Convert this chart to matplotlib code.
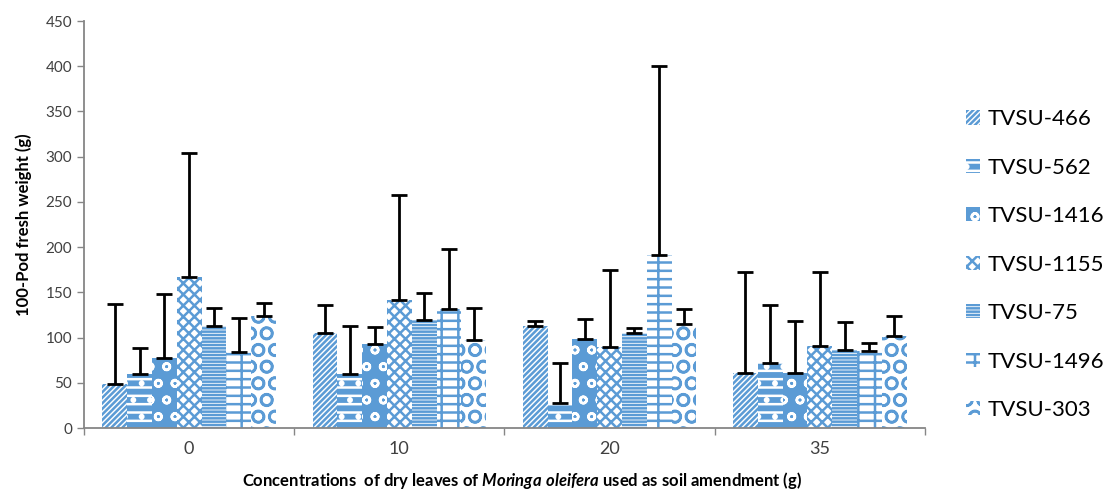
import matplotlib
matplotlib.use("Agg")
import matplotlib.pyplot as plt
import numpy as np
from matplotlib.patches import Patch

plt.rcParams['font.family'] = ['Lato', 'DejaVu Sans']
plt.rcParams['mathtext.fontset'] = 'custom'
plt.rcParams['mathtext.it'] = 'Lato:italic:bold'
plt.rcParams['mathtext.rm'] = 'Lato:bold'
plt.rcParams['hatch.linewidth'] = 1.8

groups = ['0', '10', '20', '35']
varieties = ['TVSU-466', 'TVSU-562', 'TVSU-1416', 'TVSU-1155', 'TVSU-75', 'TVSU-1496', 'TVSU-303']
means = {
    'TVSU-466': [49, 105, 113, 61],
    'TVSU-562': [60, 60, 28, 72],
    'TVSU-1416': [77, 93, 98, 61],
    'TVSU-1155': [167, 142, 90, 91],
    'TVSU-75': [113, 119, 105, 86],
    'TVSU-1496': [84, 132, 191, 85],
    'TVSU-303': [124, 97, 115, 102],
}
errors = {
    'TVSU-466': [88, 31, 5, 111],
    'TVSU-562': [28, 53, 44, 64],
    'TVSU-1416': [71, 19, 23, 57],
    'TVSU-1155': [137, 116, 85, 81],
    'TVSU-75': [20, 30, 6, 31],
    'TVSU-1496': [38, 66, 209, 9],
    'TVSU-303': [14, 36, 17, 22],
}

blue = '#5B9BD5'
# (face colour, hatch colour, hatch pattern)
styles = [
    ('white', blue, '//////'),
    (blue, 'white', '--.'),
    (blue, 'white', 'o'),
    ('white', blue, 'xxx'),
    ('white', blue, '-----'),
    ('white', blue, '--|'),
    ('white', blue, 'O'),
]

fig = plt.figure(figsize=(11.1, 4.97), dpi=100)
ax = fig.add_axes([0.0757, 0.1388, 0.7576, 0.8189])

x = np.arange(len(groups))
w = 0.118
for j, v in enumerate(varieties):
    fc, hc, h = styles[j]
    pos = x + (j - 3) * w
    ax.bar(pos, means[v], width=w, facecolor=fc, edgecolor=hc, linewidth=0,
           hatch=h, label=v, zorder=2)
    ax.errorbar(pos, means[v], yerr=[np.zeros(len(groups)), errors[v]], fmt='none',
                ecolor='black', elinewidth=2, capsize=6, capthick=2, zorder=3)

ax.set_xlim(-0.5, 3.5)
ax.set_ylim(0, 450)
ax.set_yticks(np.arange(0, 451, 50))
ax.set_xticks(x)
ax.set_xticklabels(groups, fontsize=13)
ax.set_xticks(np.arange(-0.5, 3.6, 1), minor=True)
ax.tick_params(axis='x', which='major', length=0, pad=9, labelcolor='#404040')
ax.tick_params(axis='x', which='minor', length=5, color='#868686', width=1)
ax.tick_params(axis='y', length=5, color='#868686', width=1, labelsize=11, labelcolor='#404040')
for s in ['top', 'right']:
    ax.spines[s].set_visible(False)
for s in ['left', 'bottom']:
    ax.spines[s].set_color('#868686')
    ax.spines[s].set_linewidth(1.3)

ax.set_ylabel('100-Pod fresh weight (g)', fontsize=12, fontweight='bold', labelpad=10)
fig.text(0.47, 0.012, r'Concentrations  of dry leaves of $\mathit{Moringa\ oleifera}$ used as soil amendment (g)',
         ha='center', va='bottom', fontsize=12, fontweight='bold')

handles = [Patch(facecolor=styles[j][0], edgecolor=styles[j][1], linewidth=0, hatch=styles[j][2], label=v)
           for j, v in enumerate(varieties)]
fig.legend(handles=handles, loc='upper left', bbox_to_anchor=(0.862, 0.798), frameon=False,
           fontsize=16, handlelength=0.65, handleheight=0.6, handletextpad=0.35,
           labelspacing=1.28, borderaxespad=0)

fig.savefig('out.png', dpi=100)
